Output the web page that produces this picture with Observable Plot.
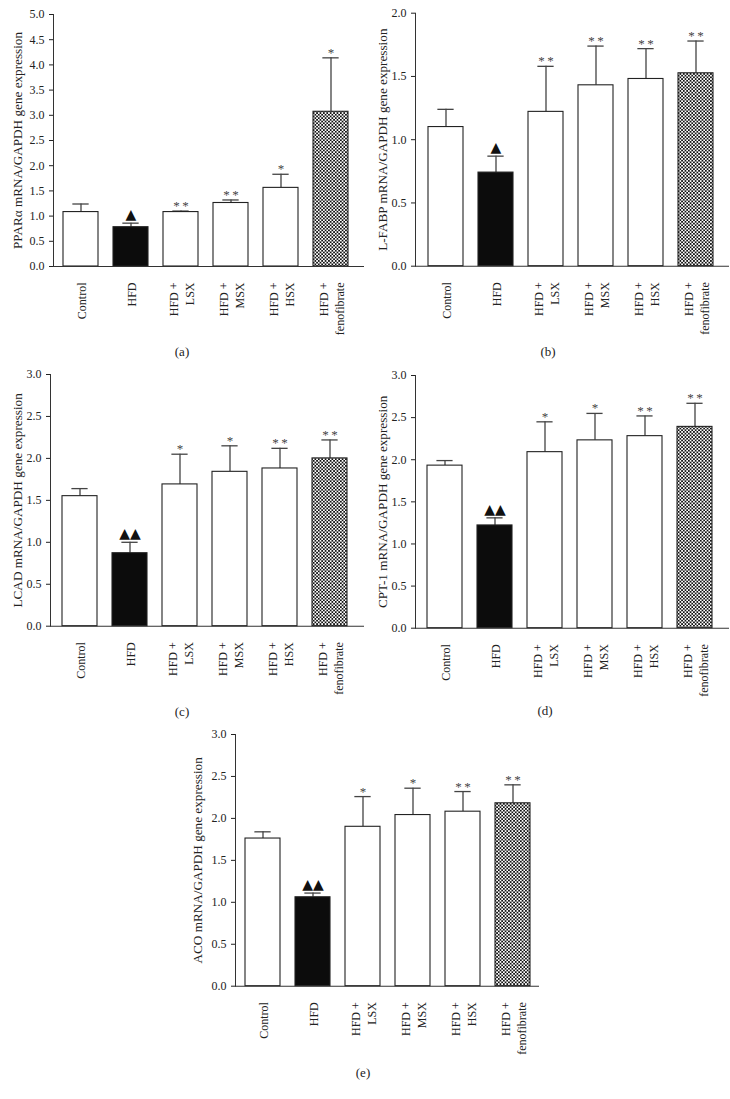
<!DOCTYPE html>
<html><head><meta charset="utf-8">
<script src="https://cdn.jsdelivr.net/npm/d3@7"></script>
<script src="https://cdn.jsdelivr.net/npm/@observablehq/plot@0.6"></script>
<style>
body{margin:0;background:#fff;}
#fig{position:relative;width:730px;height:1099px;font-family:"Liberation Serif",serif;overflow:hidden;}
.panel{position:absolute;}
.cap{position:absolute;font-size:13px;color:#222;transform:translate(-50%,-50%);font-family:"Liberation Serif",serif;}
</style></head><body><div id="fig"></div>
<script>
// ---- data ----
const groups = ["Control", "HFD", "HFD +\nLSX", "HFD +\nMSX", "HFD +\nHSX", "HFD +\nfenofibrate"];

const pparaMean = [1.08, 0.78, 1.08, 1.26, 1.56, 3.07];
const pparaUpper = [1.24, 0.86, 1.10, 1.32, 1.83, 4.14];
const pparaSig = ["", "▲", "**", "**", "*", "*"];

const lfabpMean = [1.10, 0.74, 1.22, 1.43, 1.48, 1.525];
const lfabpUpper = [1.24, 0.87, 1.58, 1.74, 1.72, 1.78];
const lfabpSig = ["", "▲", "**", "**", "**", "**"];

const lcadMean = [1.55, 0.87, 1.69, 1.84, 1.88, 2.00];
const lcadUpper = [1.64, 1.00, 2.05, 2.15, 2.12, 2.22];
const lcadSig = ["", "▲▲", "*", "*", "**", "**"];

const cpt1Mean = [1.93, 1.22, 2.09, 2.23, 2.28, 2.39];
const cpt1Upper = [1.99, 1.31, 2.45, 2.55, 2.52, 2.67];
const cpt1Sig = ["", "▲▲", "*", "*", "**", "**"];

const acoMean = [1.76, 1.06, 1.90, 2.04, 2.08, 2.18];
const acoUpper = [1.84, 1.11, 2.26, 2.36, 2.32, 2.40];
const acoSig = ["", "▲▲", "*", "*", "**", "**"];

const yLabels = ["PPARα mRNA/GAPDH gene expression", "L-FABP mRNA/GAPDH gene expression",
  "LCAD mRNA/GAPDH gene expression", "CPT-1 mRNA/GAPDH gene expression", "ACO mRNA/GAPDH gene expression"];
const yMaxes = [5, 2, 3, 3, 3];
const captions = ["(a)", "(b)", "(c)", "(d)", "(e)"];

// ---- layout ----
const layout = [
  {left: 0,   top: 0,   h: 345, axisX: 53,  yTop: 14,  y0: 266,   barL: 62,  barR: 348, right: 364, cap: [182, 352]},
  {left: 365, top: 0,   h: 345, axisX: 415, yTop: 12.7, y0: 265.7, barL: 426.7, barR: 713, right: 729, cap: [548, 352]},
  {left: 0,   top: 358, h: 345, axisX: 50,  yTop: 374, y0: 625.7, barL: 61,  barR: 347.7, right: 364, cap: [182, 712]},
  {left: 365, top: 358, h: 345, axisX: 415, yTop: 375, y0: 627.7, barL: 426, barR: 713.3, right: 729, cap: [545, 711]},
  {left: 180, top: 718, h: 345, axisX: 235, yTop: 734, y0: 985.7, barL: 244, barR: 530, right: 539, cap: [363, 1073]}
];

const means = [pparaMean, lfabpMean, lcadMean, cpt1Mean, acoMean];
const uppers = [pparaUpper, lfabpUpper, lcadUpper, cpt1Upper, acoUpper];
const sigs = [pparaSig, lfabpSig, lcadSig, cpt1Sig, acoSig];

const fig = document.getElementById("fig");
const pin = 0.31;

layout.forEach((L, k) => {
  const id = "checker" + k;
  const W = L.right - L.left + 2;
  const H = L.h;
  const step = (L.barR - L.barL) / (groups.length - pin);
  const bw = step * (1 - pin);
  const start = L.barL - L.left - step * pin / 2;
  const stop = start + groups.length * step;
  const rows = groups.map((g, i) => ({g, v: means[k][i], e: uppers[k][i], a: sigs[k][i]}));
  const capInset = (bw - 16) / 2;
  const svg = Plot.plot({
    width: W, height: H,
    marginLeft: L.axisX - L.left,
    marginRight: W - (L.right - L.left),
    marginTop: L.yTop - L.top,
    marginBottom: H - (L.y0 - L.top),
    style: {fontFamily: "Liberation Serif, serif", fontSize: "12px", color: "#222", background: "transparent", overflow: "visible"},
    x: {type: "band", domain: groups, range: [start, stop], paddingInner: pin, paddingOuter: pin / 2, align: 0.5},
    y: {domain: [0, yMaxes[k]]},
    color: {type: "ordinal", domain: groups, range: ["#fff", "#0c0c0c", "#fff", "#fff", "#fff", `url(#${id})`]},
    marks: [
      Plot.ruleX(rows, {x: "g", y1: "v", y2: "e", stroke: "#333", strokeWidth: 1.2}),
      Plot.tickY(rows, {x: "g", y: "e", stroke: "#444", strokeWidth: 1.3, insetLeft: capInset, insetRight: capInset}),
      Plot.barY(rows, {x: "g", y: "v", fill: "g", stroke: "#222", strokeWidth: 1.1}),
      Plot.frame({anchor: "left", stroke: "#333"}),
      Plot.ruleY([0], {stroke: "#333", strokeWidth: 1.1}),
      Plot.axisY({ticks: d3.range(0, yMaxes[k] + 1e-9, 0.5), tickFormat: d3.format(".1f"), tickSize: 4, tickPadding: 5, label: null, fontSize: 12}),
      Plot.text([yLabels[k]], {frameAnchor: "left", rotate: -90, textAnchor: "middle", lineAnchor: "middle", dx: -(L.axisX - L.left) + 17, text: d => d, fontSize: 13.2, fill: "#222"}),
      Plot.axisX({tickSize: 0, tickPadding: 16, tickRotate: -90, label: null, fontSize: 12, lineHeight: 1.3}),
      Plot.text(rows.filter(d => d.a.includes("*")), {x: "g", y: "e", text: d => d.a.split("").join("\u2009"), lineAnchor: "bottom", dy: -1, fill: "#444", fontSize: 13}),
      Plot.text(rows.filter(d => d.a.includes("▲")), {x: "g", y: "e", text: "a", lineAnchor: "bottom", dy: -4, fontFamily: "DejaVu Sans", fontSize: 14, fill: "#111"})
    ]
  });
  d3.select(svg).insert("defs", ":first-child").html(
    `<pattern id="${id}" width="3.4" height="3.4" patternUnits="userSpaceOnUse">
      <rect width="3.4" height="3.4" fill="#fff"/>
      <rect width="1.7" height="1.7" fill="#111"/>
      <rect x="1.7" y="1.7" width="1.7" height="1.7" fill="#111"/>
    </pattern>`);
  svg.classList.add("panel");
  svg.style.left = L.left + "px";
  svg.style.top = L.top + "px";
  fig.appendChild(svg);
  const c = document.createElement("div");
  c.className = "cap";
  c.textContent = captions[k];
  c.style.left = L.cap[0] + "px";
  c.style.top = L.cap[1] + "px";
  fig.appendChild(c);
});
</script>
</body></html>
